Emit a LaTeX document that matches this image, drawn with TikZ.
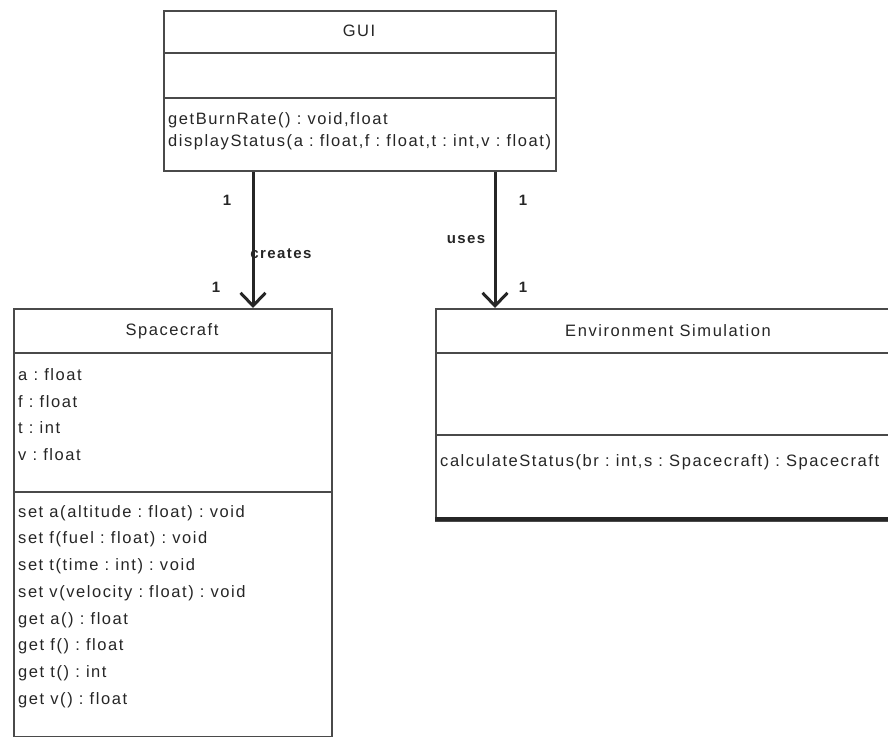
\documentclass[tikz,border=0pt]{standalone}
\usepackage{fontspec}
\setmainfont{Liberation Sans}
\newfontfamily\umlfont[LetterSpace=9.5]{Liberation Sans}
\usetikzlibrary{arrows.meta}
\definecolor{ink}{HTML}{262626}
\definecolor{edge}{HTML}{4A4A4A}
\tikzset{
  classbox/.style={draw=edge, line width=2pt, fill=white, anchor=north west, inner sep=0pt},
  divider/.style={draw=edge, line width=2pt},
  member/.style={anchor=west, inner sep=0pt, font=\umlfont\fontsize{16.5}{18}\selectfont, text=ink},
  title/.style={inner sep=0pt, font=\umlfont\fontsize{16.5}{18}\selectfont, text=ink},
  mult/.style={inner sep=0pt, font=\umlfont\fontsize{15}{18}\selectfont\bfseries, text=ink},
  assoclabel/.style={inner sep=0pt, font=\umlfont\fontsize{15}{18}\selectfont\bfseries, text=ink},
  assoc/.style={draw=ink, line width=3pt, -{Straight Barb[length=13pt,width=25pt,line width=3pt]}}
}
\begin{document}
\frenchspacing
\begin{tikzpicture}[x=1pt,y=-1pt]
\path[use as bounding box] (0,0) rectangle (888,736);
\begin{scope}
\clip (0,0) rectangle (888,736);

% GUI class
\node[classbox, minimum width=392pt, minimum height=160pt] (gui) at (163,10) {};
\draw[divider] (163,53) -- (555,53);
\draw[divider] (163,98) -- (555,98);
\node[title] (guititle) at (359,31) {GUI};
\node[member] (gm1) at (168,120) {getBurnRate() : void,float};
\node[member] (gm2) at (168,142) {displayStatus(a : float,f : float,t : int,v : float)};

% Spacecraft class
\node[classbox, minimum width=318pt, minimum height=428pt] (sc) at (13,308) {};
\draw[divider] (13,353) -- (331,353);
\draw[divider] (13,492) -- (331,492);
\node[title] (sctitle) at (172,331) {Spacecraft};
\foreach \t [count=\i] in {a : float, f : float, t : int, v : float}
  \node[member] (sa\i) at (18,{375+26.4*(\i-1)}) {\t};
\foreach \t [count=\i] in {set a(altitude : float) : void, set f(fuel : float) : void,
    set t(time : int) : void, set v(velocity : float) : void,
    get a() : float, get f() : float, get t() : int, get v() : float}
  \node[member] (sm\i) at (18,{513+26.7*(\i-1)}) {\t};

% Environment Simulation class
\node[classbox, minimum width=470pt, minimum height=212pt] (env) at (435,308) {};
\draw[divider] (435,353) -- (905,353);
\draw[divider] (435,435) -- (905,435);
\draw[draw=ink, line width=3.5pt] (435,519) -- (905,519);
\node[title] (envtitle) at (668,331) {Environment Simulation};
\node[member] (em1) at (440,462) {calculateStatus(br : int,s : Spacecraft) : Spacecraft};

% Associations
\draw[assoc] (gui.south -| 253,0) -- (sc.north -| 253,0);
\draw[assoc] (gui.south -| 495,0) -- (env.north -| 495,0);

\node[assoclabel] (creates) at (281,254) {creates};
\node[assoclabel] (uses) at (466,240) {uses};
\node[mult] (m1) at (227,200) {1};
\node[mult] (m2) at (216,287) {1};
\node[mult] (m3) at (523,200) {1};
\node[mult] (m4) at (523,287) {1};
\end{scope}
\end{tikzpicture}
\end{document}
